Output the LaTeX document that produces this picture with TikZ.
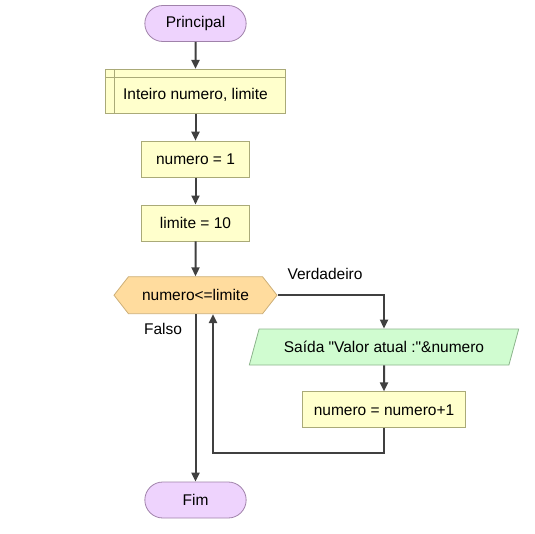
\documentclass[tikz,border=0pt]{standalone}
\usepackage{fontspec}
\setmainfont{Liberation Sans}
\usetikzlibrary{arrows.meta,positioning,shapes.geometric,shapes.misc,shapes.symbols,calc}
\definecolor{termfill}{RGB}{238,211,253}
\definecolor{termline}{RGB}{160,130,170}
\definecolor{procfill}{RGB}{255,255,204}
\definecolor{procline}{RGB}{170,170,120}
\definecolor{decfill}{RGB}{255,220,158}
\definecolor{decline}{RGB}{205,175,120}
\definecolor{outfill}{RGB}{208,252,208}
\definecolor{outline}{RGB}{140,180,140}
\definecolor{flowgray}{RGB}{64,64,64}
\tikzset{
  fterm/.style={rounded rectangle, draw=termline, fill=termfill, line width=0.8pt,
                minimum width=108pt, minimum height=36pt},
  fproc/.style={rectangle, draw=procline, fill=procfill, line width=0.8pt,
                minimum width=108pt, minimum height=36pt},
  fdec/.style={signal, signal to=west and east, signal pointer angle=104,
               draw=decline, fill=decfill, line width=0.8pt,
               minimum width=163pt, minimum height=37pt},
  fout/.style={trapezium, trapezium left angle=66, trapezium right angle=114,
               trapezium stretches=true, draw=outline, fill=outfill, line width=0.8pt,
               minimum width=270pt, minimum height=36pt},
  farr/.style={-{Triangle[length=9pt,width=8pt]}, line width=2pt, flowgray},
}

\begin{document}
\begin{tikzpicture}[x=1pt,y=1pt,node distance=27pt,font=\fontsize{15.5}{18}\selectfont]
        \useasboundingbox (0,0) rectangle (535,-533);
        \node[fterm](start) at (195.5,-23.5){Principal};
        \node[fproc,minimum width=180pt,minimum height=44pt,below=of start](decl){\raisebox{-4pt}[\height][\depth]{Inteiro numero, limite}};
        \draw[procline,line width=0.8pt]([yshift=-8pt]decl.north west)--([yshift=-8pt]decl.north east);
        \draw[procline,line width=0.8pt]([xshift=9pt]decl.north west)--([xshift=9pt]decl.south west);
        \node[fproc,below=of decl](ini){numero = 1};
        \node[fproc,below=of ini](lim){limite = 10};
        \node[fdec,below=35pt of lim](cond){numero<=limite};
        \node[fout](say) at (384,-347){Saída \textquotedbl Valor atual :\textquotedbl\&numero};
        \node[fproc,minimum width=163pt,below=26pt of say](incr){numero = numero+1};
        \node[fterm](stop) at (195.5,-500){Fim};
        \node(yes) at (325,-274){Verdadeiro};
        \node(no) at (163,-329){Falso};
        \draw[farr](start)--(decl);\draw[farr](decl)--(ini);\draw[farr](ini)--(lim);\draw[farr](lim)--(cond);
        \draw[farr](cond.east)-|(say.north);
        \draw[farr](say)--(incr);
        \draw[farr](incr.south)--++(0,-25)-|([xshift=17.5pt]cond.south);
        \draw[farr](cond.south)--(stop.north);
    \end{tikzpicture}
\end{document}
